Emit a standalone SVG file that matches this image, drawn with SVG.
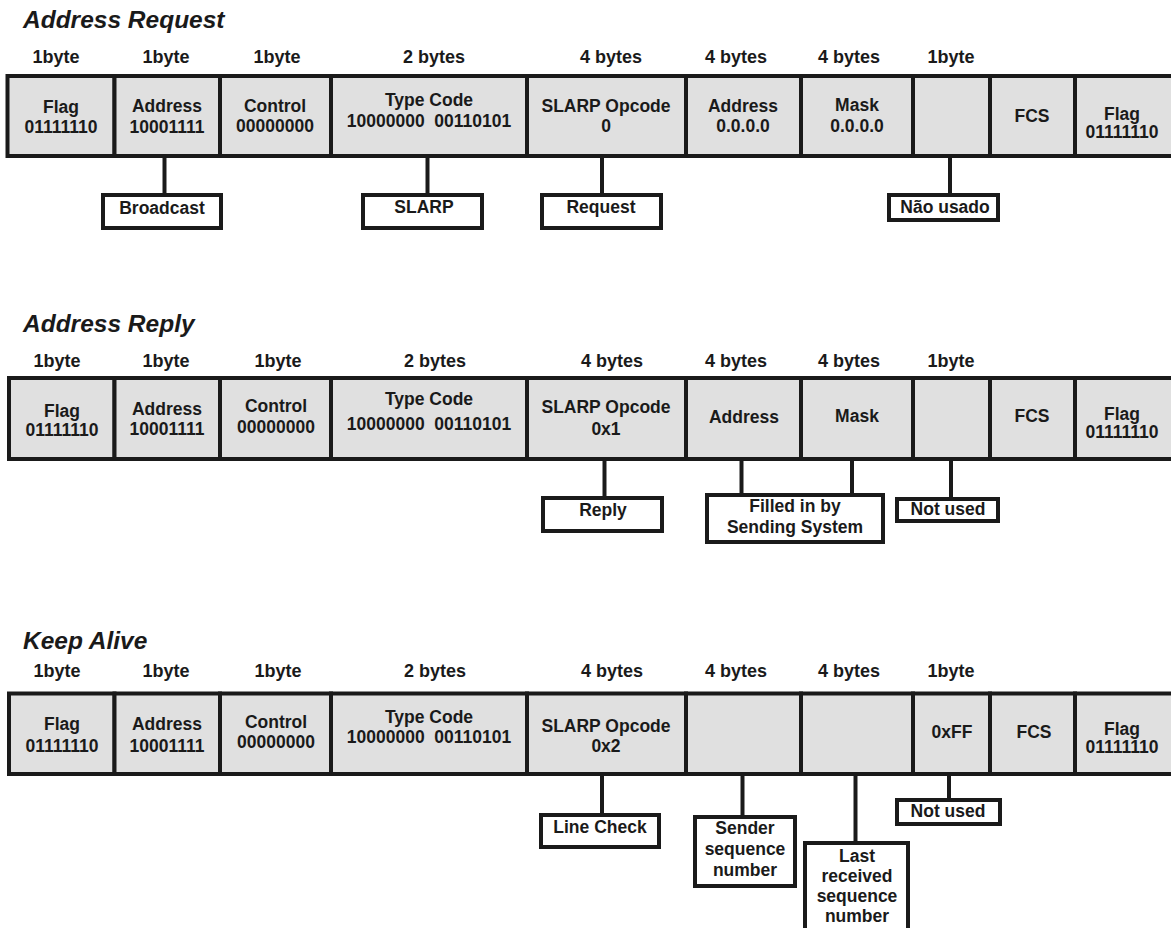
<svg xmlns="http://www.w3.org/2000/svg" width="1171" height="928" viewBox="0 0 1171 928">
<style>
text{font-family:"Liberation Sans",Arial,sans-serif;font-weight:bold;fill:#1a1a1a;text-anchor:middle}
.title{font-size:24.5px;font-style:italic;text-anchor:start}
.size{font-size:18px}
.cell rect{fill:#e0e0e0;stroke:#1a1a1a;stroke-width:4}
.cell text{font-size:17.5px}
.lbl rect{fill:#fff;stroke:#1a1a1a;stroke-width:4}
.lbl text{font-size:17.5px}
.conn line{stroke:#1a1a1a;stroke-width:4}
</style>
<rect width="1171" height="928" fill="#fff"/>

<!-- Section 1 -->
<text class="title" x="23" y="28">Address Request</text>
<text class="size" x="56" y="63">1byte</text>
<text class="size" x="166" y="63">1byte</text>
<text class="size" x="277" y="63">1byte</text>
<text class="size" x="434" y="63">2 bytes</text>
<text class="size" x="611" y="63">4 bytes</text>
<text class="size" x="736" y="63">4 bytes</text>
<text class="size" x="849" y="63">4 bytes</text>
<text class="size" x="951" y="63">1byte</text>
<g id="r1-flag" class="cell"><rect x="7.5" y="76" width="107" height="80"/><text x="61" y="113">Flag</text><text x="61" y="133">01111110</text></g>
<g id="r1-address" class="cell"><rect x="114.5" y="76" width="105.5" height="80"/><text x="167" y="112">Address</text><text x="167" y="133">10001111</text></g>
<g id="r1-control" class="cell"><rect x="220" y="76" width="111" height="80"/><text x="275" y="112">Control</text><text x="275" y="132">00000000</text></g>
<g id="r1-type" class="cell"><rect x="331" y="76" width="196" height="80"/><text x="429" y="106">Type Code</text><text x="429" y="127" xml:space="preserve">10000000  00110101</text></g>
<g id="r1-opcode" class="cell"><rect x="527" y="76" width="159" height="80"/><text x="606" y="112">SLARP Opcode</text><text x="606" y="132">0</text></g>
<g id="r1-addr" class="cell"><rect x="686" y="76" width="115" height="80"/><text x="743" y="112">Address</text><text x="743" y="132">0.0.0.0</text></g>
<g id="r1-mask" class="cell"><rect x="801" y="76" width="112" height="80"/><text x="857" y="111">Mask</text><text x="857" y="132">0.0.0.0</text></g>
<g id="r1-unused" class="cell"><rect x="913" y="76" width="77" height="80"/></g>
<g id="r1-fcs" class="cell"><rect x="990" y="76" width="85" height="80"/><text x="1032" y="122">FCS</text></g>
<g id="r1-flag2" class="cell"><rect x="1075" y="76" width="115" height="80"/><text x="1122" y="120">Flag</text><text x="1122" y="138">01111110</text></g>

<!-- Section 2 -->
<text class="title" x="23" y="332">Address Reply</text>
<text class="size" x="57" y="367">1byte</text>
<text class="size" x="166" y="367">1byte</text>
<text class="size" x="278" y="367">1byte</text>
<text class="size" x="435" y="367">2 bytes</text>
<text class="size" x="612" y="367">4 bytes</text>
<text class="size" x="736" y="367">4 bytes</text>
<text class="size" x="849" y="367">4 bytes</text>
<text class="size" x="951" y="367">1byte</text>
<g id="r2-flag" class="cell"><rect x="9" y="378" width="105.5" height="81"/><text x="62" y="417">Flag</text><text x="62" y="436">01111110</text></g>
<g id="r2-address" class="cell"><rect x="114.5" y="378" width="105.5" height="81"/><text x="167" y="415">Address</text><text x="167" y="435">10001111</text></g>
<g id="r2-control" class="cell"><rect x="220" y="378" width="111" height="81"/><text x="276" y="412">Control</text><text x="276" y="433">00000000</text></g>
<g id="r2-type" class="cell"><rect x="331" y="378" width="196" height="81"/><text x="429" y="405">Type Code</text><text x="429" y="430" xml:space="preserve">10000000  00110101</text></g>
<g id="r2-opcode" class="cell"><rect x="527" y="378" width="159" height="81"/><text x="606" y="413">SLARP Opcode</text><text x="606" y="435">0x1</text></g>
<g id="r2-addr" class="cell"><rect x="686" y="378" width="115" height="81"/><text x="744" y="423">Address</text></g>
<g id="r2-mask" class="cell"><rect x="801" y="378" width="112" height="81"/><text x="857" y="422">Mask</text></g>
<g id="r2-unused" class="cell"><rect x="913" y="378" width="77" height="81"/></g>
<g id="r2-fcs" class="cell"><rect x="990" y="378" width="85" height="81"/><text x="1032" y="422">FCS</text></g>
<g id="r2-flag2" class="cell"><rect x="1075" y="378" width="115" height="81"/><text x="1122" y="420">Flag</text><text x="1122" y="438">01111110</text></g>

<!-- Section 3 -->
<text class="title" x="23" y="649">Keep Alive</text>
<text class="size" x="57" y="677">1byte</text>
<text class="size" x="166" y="677">1byte</text>
<text class="size" x="278" y="677">1byte</text>
<text class="size" x="435" y="677">2 bytes</text>
<text class="size" x="612" y="677">4 bytes</text>
<text class="size" x="736" y="677">4 bytes</text>
<text class="size" x="849" y="677">4 bytes</text>
<text class="size" x="951" y="677">1byte</text>
<g id="r3-flag" class="cell"><rect x="9" y="693.5" width="105.5" height="80.5"/><text x="62" y="730">Flag</text><text x="62" y="752">01111110</text></g>
<g id="r3-address" class="cell"><rect x="114.5" y="693.5" width="105.5" height="80.5"/><text x="167" y="730">Address</text><text x="167" y="752">10001111</text></g>
<g id="r3-control" class="cell"><rect x="220" y="693.5" width="111" height="80.5"/><text x="276" y="728">Control</text><text x="276" y="748">00000000</text></g>
<g id="r3-type" class="cell"><rect x="331" y="693.5" width="196" height="80.5"/><text x="429" y="723">Type Code</text><text x="429" y="743" xml:space="preserve">10000000  00110101</text></g>
<g id="r3-opcode" class="cell"><rect x="527" y="693.5" width="159" height="80.5"/><text x="606" y="732">SLARP Opcode</text><text x="606" y="752">0x2</text></g>
<g id="r3-seq" class="cell"><rect x="686" y="693.5" width="115" height="80.5"/></g>
<g id="r3-lastseq" class="cell"><rect x="801" y="693.5" width="112" height="80.5"/></g>
<g id="r3-ff" class="cell"><rect x="913" y="693.5" width="77" height="80.5"/><text x="952" y="738">0xFF</text></g>
<g id="r3-fcs" class="cell"><rect x="990" y="693.5" width="85" height="80.5"/><text x="1034" y="738">FCS</text></g>
<g id="r3-flag2" class="cell"><rect x="1075" y="693.5" width="115" height="80.5"/><text x="1122" y="735">Flag</text><text x="1122" y="753">01111110</text></g>

<!-- Connectors -->
<g id="connectors" class="conn">
<line x1="164.5" y1="158" x2="164.5" y2="195"/>
<line x1="427.5" y1="158" x2="427.5" y2="195"/>
<line x1="602" y1="158" x2="602" y2="195"/>
<line x1="950" y1="158" x2="950" y2="195"/>
<line x1="604.5" y1="461" x2="604.5" y2="498"/>
<line x1="741.5" y1="461" x2="741.5" y2="495"/>
<line x1="852" y1="461" x2="852" y2="495"/>
<line x1="951" y1="461" x2="951" y2="499"/>
<line x1="602" y1="776" x2="602" y2="815"/>
<line x1="742.5" y1="776" x2="742.5" y2="817"/>
<line x1="855.5" y1="776" x2="855.5" y2="843"/>
<line x1="949" y1="776" x2="949" y2="800"/>
</g>

<!-- Label boxes -->
<g id="l-broadcast" class="lbl"><rect x="103" y="195" width="118" height="33"/><text x="162" y="214">Broadcast</text></g>
<g id="l-slarp" class="lbl"><rect x="363" y="195" width="119" height="33"/><text x="424" y="213">SLARP</text></g>
<g id="l-request" class="lbl"><rect x="542" y="195" width="119" height="33"/><text x="601" y="213">Request</text></g>
<g id="l-naousado" class="lbl"><rect x="889" y="195" width="109" height="25"/><text x="945" y="213">Não usado</text></g>

<g id="l-reply" class="lbl"><rect x="543" y="498" width="119" height="33"/><text x="603" y="516">Reply</text></g>
<g id="l-filled" class="lbl"><rect x="707" y="495" width="176" height="47"/><text x="795" y="512">Filled in by</text><text x="795" y="533">Sending System</text></g>
<g id="l-notused2" class="lbl"><rect x="897" y="499" width="101" height="22"/><text x="948" y="515">Not used</text></g>

<g id="l-linecheck" class="lbl"><rect x="541" y="815" width="118" height="32"/><text x="600" y="833">Line Check</text></g>
<g id="l-sender" class="lbl"><rect x="695" y="817" width="100" height="69"/><text x="745" y="834">Sender</text><text x="745" y="855">sequence</text><text x="745" y="876">number</text></g>
<g id="l-lastrecv" class="lbl"><rect x="805" y="843" width="103" height="95"/><text x="857" y="862">Last</text><text x="857" y="882">received</text><text x="857" y="902">sequence</text><text x="857" y="922">number</text></g>
<g id="l-notused3" class="lbl"><rect x="897" y="800" width="103" height="24"/><text x="948" y="817">Not used</text></g>
</svg>
